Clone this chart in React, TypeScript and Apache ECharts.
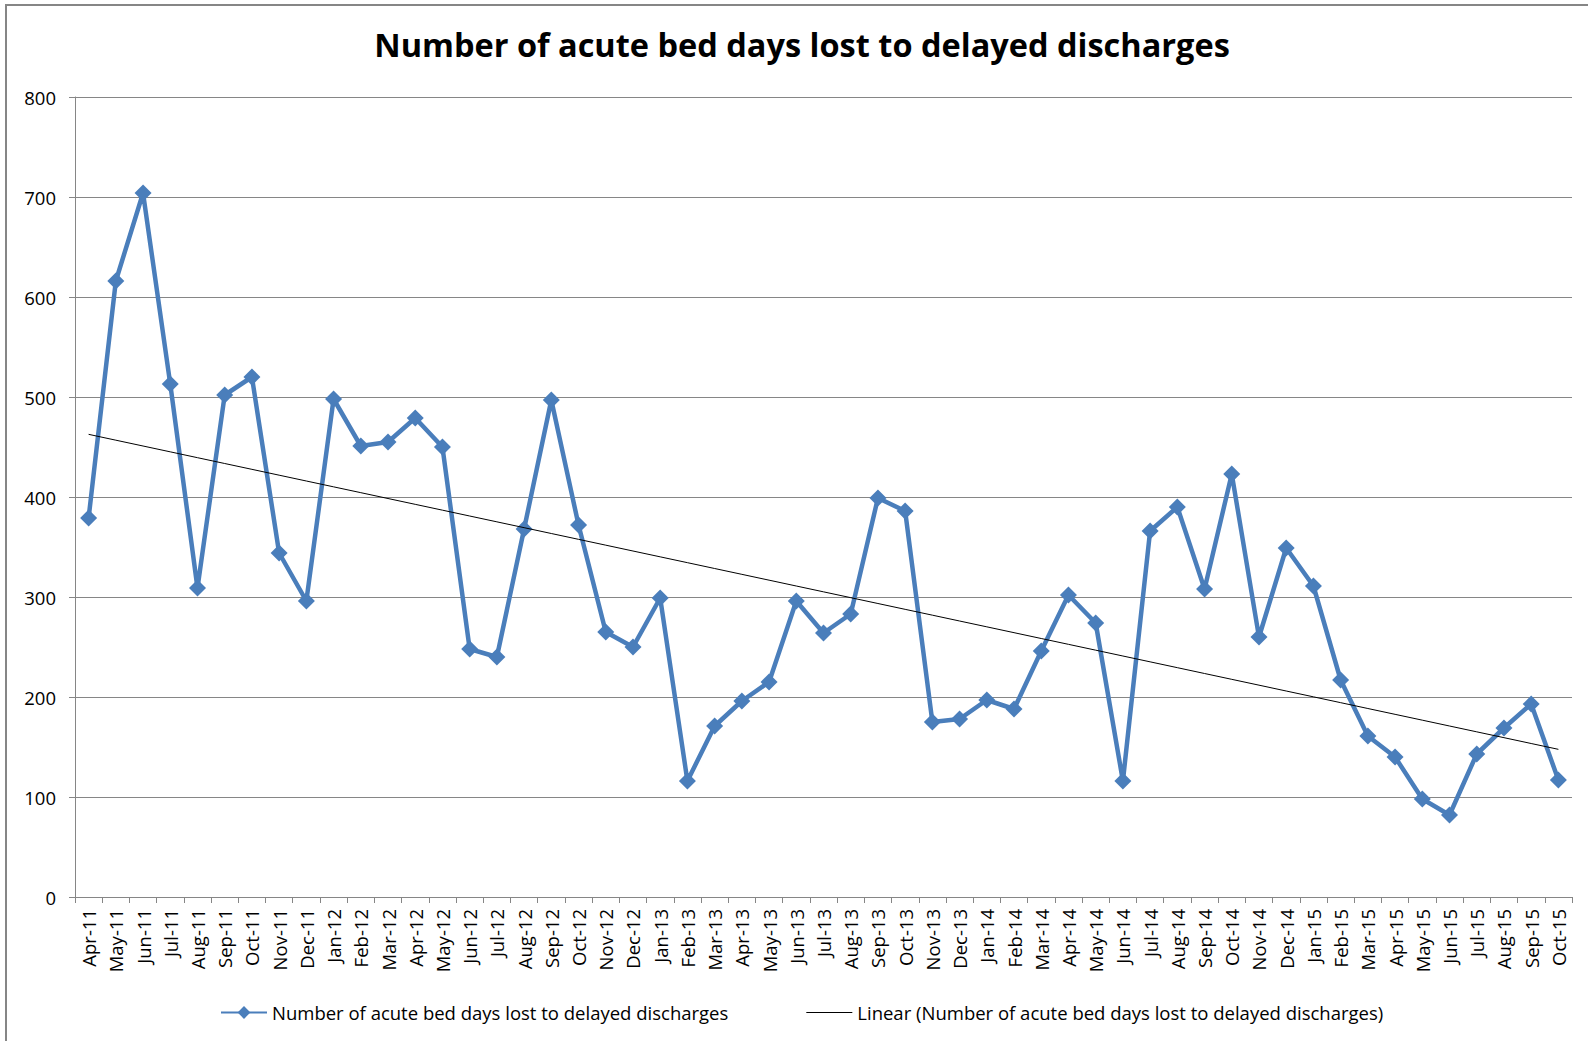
import React, { useEffect, useRef } from "react";
import * as echarts from "echarts";

const TITLE = "Number of acute bed days lost to delayed discharges";
const SERIES_NAME = "Number of acute bed days lost to delayed discharges";
const TREND_NAME = "Linear (Number of acute bed days lost to delayed discharges)";

const months = [
  "Apr-11", "May-11", "Jun-11", "Jul-11", "Aug-11", "Sep-11", "Oct-11", "Nov-11", "Dec-11", "Jan-12", "Feb-12", "Mar-12",
  "Apr-12", "May-12", "Jun-12", "Jul-12", "Aug-12", "Sep-12", "Oct-12", "Nov-12", "Dec-12", "Jan-13", "Feb-13", "Mar-13",
  "Apr-13", "May-13", "Jun-13", "Jul-13", "Aug-13", "Sep-13", "Oct-13", "Nov-13", "Dec-13", "Jan-14", "Feb-14", "Mar-14",
  "Apr-14", "May-14", "Jun-14", "Jul-14", "Aug-14", "Sep-14", "Oct-14", "Nov-14", "Dec-14", "Jan-15", "Feb-15", "Mar-15",
  "Apr-15", "May-15", "Jun-15", "Jul-15", "Aug-15", "Sep-15", "Oct-15",
];

const bedDaysLost = [
  379, 616, 704, 513, 309, 502, 520, 344, 296, 498, 451, 455,
  479, 450, 248, 240, 368, 497, 372, 265, 250, 299, 116, 171,
  196, 215, 296, 264, 283, 399, 386, 175, 178, 197, 188, 246,
  302, 274, 116, 366, 390, 308, 423, 260, 349, 311, 217, 161,
  140, 98, 82, 143, 169, 193, 117,
];

const yTicks = [0, 100, 200, 300, 400, 500, 600, 700, 800];

// Least-squares linear trendline (as Excel's "Linear" trendline)
function linearTrend(values: number[]): number[] {
  const n = values.length;
  let sx = 0, sy = 0, sxx = 0, sxy = 0;
  values.forEach((v, i) => {
    const x = i + 1;
    sx += x; sy += v; sxx += x * x; sxy += x * v;
  });
  const slope = (n * sxy - sx * sy) / (n * sxx - sx * sx);
  const intercept = (sy - slope * sx) / n;
  return values.map((_, i) => +(intercept + slope * (i + 1)).toFixed(2));
}

const FONT = '"Open Sans", "Noto Sans", sans-serif';

export default function App() {
  const ref = useRef<HTMLDivElement>(null);
  useEffect(() => {
    if (!ref.current) return;
    const chart = echarts.init(ref.current, null, { renderer: "svg" });
    const trend = linearTrend(bedDaysLost);
    chart.setOption({
      animation: false,
      backgroundColor: "#ffffff",
      textStyle: { fontFamily: FONT },
      title: {
        text: TITLE,
        left: 802,
        top: 28,
        textAlign: "center",
        padding: 0,
        textStyle: { fontFamily: FONT, fontWeight: "bold", fontSize: 32.5, color: "#000000" },
      },
      graphic: [
        {
          type: "rect",
          silent: true,
          shape: { x: 6, y: 5, width: 1700, height: 1200 },
          style: { fill: "none", stroke: "#868686", lineWidth: 2 },
          z: 100,
        },
      ],
      legend: {
        left: 215,
        top: 998,
        itemWidth: 46,
        itemHeight: 16,
        itemGap: 78,
        textStyle: { fontFamily: FONT, fontSize: 18.5, color: "#000000" },
        data: [
          { name: SERIES_NAME },
          { name: TREND_NAME, icon: "path://M0,0L100,0L100,2L0,2Z", itemStyle: { color: "#000000" } },
        ],
      },
      grid: { left: 75, right: 16, top: 97, bottom: 144, containLabel: false },
      xAxis: {
        type: "category",
        data: months,
        boundaryGap: true,
        axisLine: { show: true, lineStyle: { color: "#868686", width: 1 } },
        axisTick: { show: true, interval: 0, length: 6, lineStyle: { color: "#868686" } },
        axisLabel: {
          interval: 0,
          rotate: 90,
          margin: 12,
          fontFamily: FONT,
          fontSize: 18.5,
          color: "#000000",
        },
        splitLine: { show: false },
      },
      yAxis: {
        type: "value",
        min: 0,
        max: 800,
        interval: 100,
        axisLine: { show: true, lineStyle: { color: "#868686", width: 1 } },
        axisTick: { show: true, length: 6, lineStyle: { color: "#868686" } },
        axisLabel: {
          margin: 19,
          fontFamily: FONT,
          fontSize: 18.5,
          color: "#000000",
          formatter: (v: number) => (yTicks.includes(v) ? String(v) : ""),
        },
        splitLine: { show: true, lineStyle: { color: "#868686", width: 1 } },
      },
      series: [
        {
          name: SERIES_NAME,
          type: "line",
          data: bedDaysLost,
          symbol: "diamond",
          symbolSize: 17,
          lineStyle: { color: "#4A7EBB", width: 4.5 },
          itemStyle: { color: "#4A7EBB" },
          z: 3,
        },
        {
          name: TREND_NAME,
          type: "line",
          data: trend,
          symbol: "none",
          lineStyle: { color: "#000000", width: 1 },
          itemStyle: { color: "#000000" },
          z: 4,
        },
      ],
    });
    return () => chart.dispose();
  }, []);
  return (
    <div
      ref={ref}
      style={{ position: "absolute", left: 0, top: 0, width: 1588, height: 1041 }}
    />
  );
}
